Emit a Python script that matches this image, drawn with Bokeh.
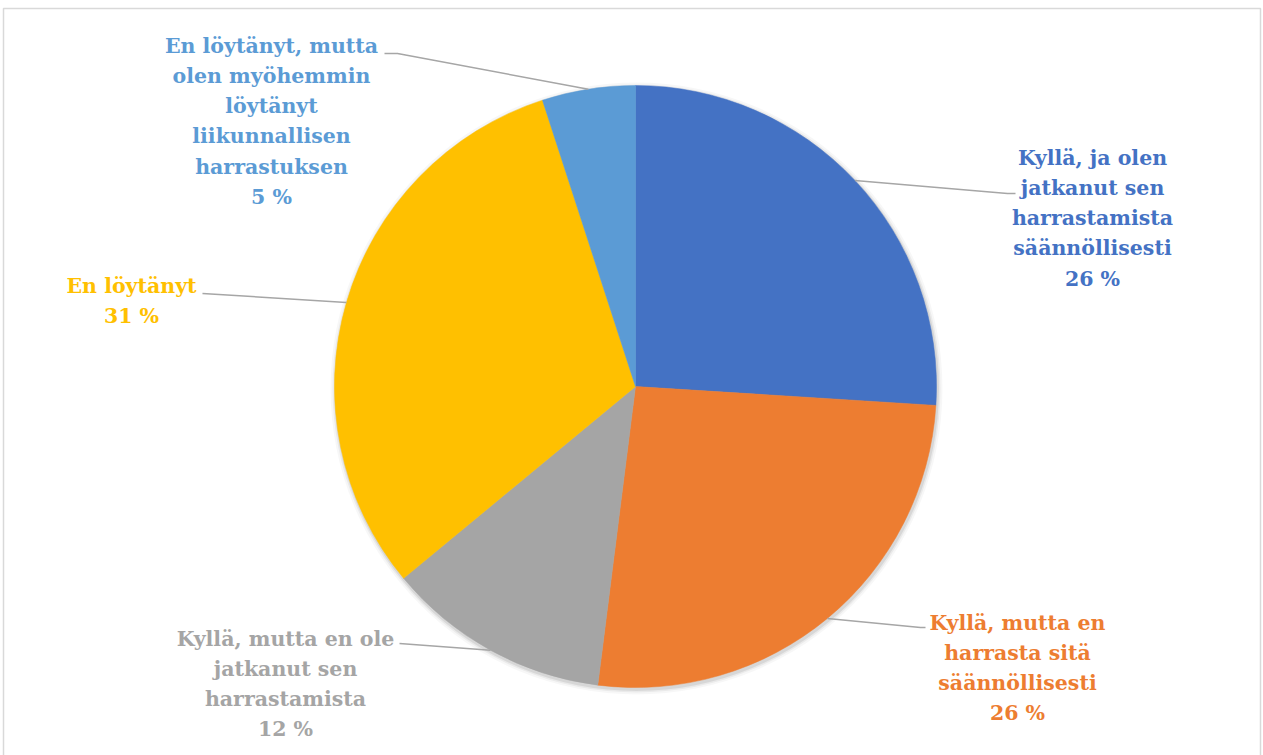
import math
from bokeh.plotting import figure
from bokeh.models import ColumnDataSource, Range1d
from bokeh.core.properties import value
from bokeh.embed import file_html
from bokeh.resources import INLINE

# ---------------- data ----------------
categories = [
    "Kyllä, ja olen jatkanut sen harrastamista säännöllisesti",
    "Kyllä, mutta en harrasta sitä säännöllisesti",
    "Kyllä, mutta en ole jatkanut sen harrastamista",
    "En löytänyt",
    "En löytänyt, mutta olen myöhemmin löytänyt liikunnallisen harrastuksen",
]
values = [26, 26, 12, 31, 5]
colors = ["#4472C4", "#ED7D31", "#A5A5A5", "#FFC000", "#5B9BD5"]
label_lines = [
    ["Kyllä, ja olen", "jatkanut sen", "harrastamista", "säännöllisesti"],
    ["Kyllä, mutta en", "harrasta sitä", "säännöllisesti"],
    ["Kyllä, mutta en ole", "jatkanut sen", "harrastamista"],
    ["En löytänyt"],
    ["En löytänyt, mutta", "olen myöhemmin", "löytänyt", "liikunnallisen", "harrastuksen"],
]

# ---------------- layout ----------------
W, H = 1263, 755


def px(X, Y):
    """page pixel -> data coordinates (1 unit = 1 px, y up)"""
    return X, H - Y


cx, cy = px(635, 386)
R = 301
LINE_H = 30.3
label_pos = [(1092, 157), (1017, 622), (285, 638), (131, 285), (271, 45)]
leader_pts = [
    [(1007, 193), (1015, 193)],
    [(920, 627), (925, 627)],
    [(399, 643)],
    [(202, 293)],
    [(397, 53), (384, 53)],
]

total = float(sum(values))
starts, ends, mids = [], [], []
cum = 0.0
for v in values:
    a0 = math.pi / 2 - 2 * math.pi * cum / total
    cum += v
    a1 = math.pi / 2 - 2 * math.pi * cum / total
    starts.append(a0)
    ends.append(a1)
    mids.append((a0 + a1) / 2)

p = figure(width=W, height=H, output_backend="svg", toolbar_location=None,
           x_range=Range1d(0, W), y_range=Range1d(0, H), min_border=0)
p.axis.visible = False
p.grid.visible = False
p.outline_line_color = None
p.background_fill_color = "white"
p.border_fill_color = "white"

# chart frame border
bx = [px(3, 0)[0], px(3, 0)[0], px(1260, 0)[0], px(1260, 0)[0]]
by = [px(0, 770)[1], px(0, 8)[1], px(0, 8)[1], px(0, 770)[1]]
p.line(bx, by, line_color="#D9D9D9", line_width=1.5)

# soft shadow
for dr, al in [(5, 0.03), (3, 0.05), (1.5, 0.08)]:
    p.circle(x=cx + 1, y=cy - 2, radius=R + dr, fill_color="black",
             fill_alpha=al, line_color=None)

src = ColumnDataSource(dict(cat=categories, val=values, color=colors,
                            start=starts, end=ends))
p.wedge(x=cx, y=cy, radius=R, start_angle="start", end_angle="end",
        direction="clock", fill_color="color", line_color="color",
        line_width=0.5, source=src)

# leader lines
for i in range(len(values)):
    xs = [cx + R * math.cos(mids[i])]
    ys = [cy + R * math.sin(mids[i])]
    for (X, Y) in leader_pts[i]:
        x, y = px(X, Y)
        xs.append(x)
        ys.append(y)
    p.line(xs, ys, line_color="#A6A6A6", line_width=1.5)

# labels
FONT = value("DejaVu Serif")
for i in range(len(values)):
    lines = label_lines[i] + [f"{values[i]} %"]
    X, Y = label_pos[i]
    tx, ty = [], []
    for k, _ in enumerate(lines):
        x, y = px(X, Y + k * LINE_H)
        tx.append(x)
        ty.append(y)
    p.text(x=tx, y=ty, text=lines, text_color=colors[i],
           text_font=FONT, text_font_style="bold",
           text_font_size="20.5px", text_align="center", text_baseline="middle")

open("out.html", "w").write(file_html(p, INLINE))
